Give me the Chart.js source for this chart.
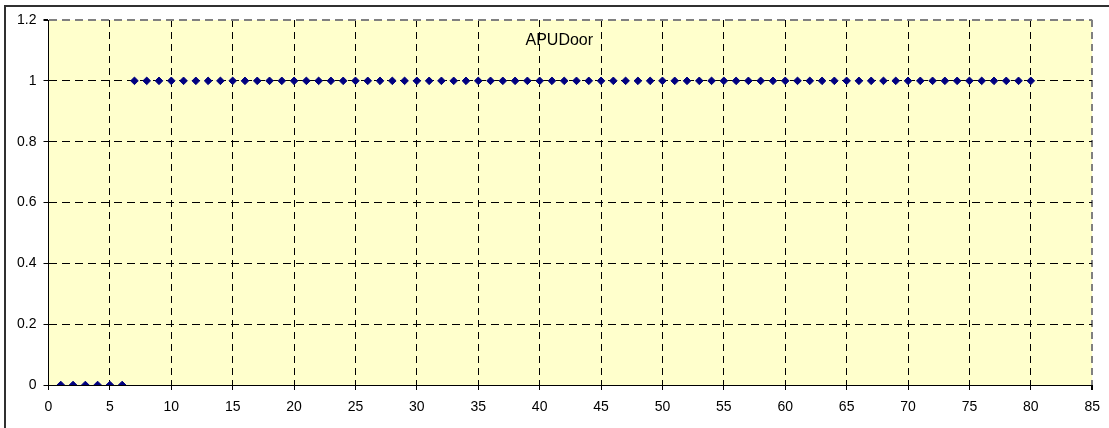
<!DOCTYPE html>
<html>
<head>
<meta charset="utf-8">
<script src="https://cdn.jsdelivr.net/npm/chart.js@4"></script>
<style>
html,body{margin:0;padding:0;background:#fff;}
#wrap{position:relative;width:1109px;height:428px;}
</style>
</head>
<body>
<div id="wrap"><canvas id="c" width="1109" height="428"></canvas></div>
<script>
const chartTitle = "APUDoor";
const xValues = [1,2,3,4,5,6,7,8,9,10,11,12,13,14,15,16,17,18,19,20,
  21,22,23,24,25,26,27,28,29,30,31,32,33,34,35,36,37,38,39,40,
  41,42,43,44,45,46,47,48,49,50,51,52,53,54,55,56,57,58,59,60,
  61,62,63,64,65,66,67,68,69,70,71,72,73,74,75,76,77,78,79,80];
const yValues = [0,0,0,0,0,0,1,1,1,1,1,1,1,1,1,1,1,1,1,1,
  1,1,1,1,1,1,1,1,1,1,1,1,1,1,1,1,1,1,1,1,
  1,1,1,1,1,1,1,1,1,1,1,1,1,1,1,1,1,1,1,1,
  1,1,1,1,1,1,1,1,1,1,1,1,1,1,1,1,1,1,1,1];
const xTicks = [0,5,10,15,20,25,30,35,40,45,50,55,60,65,70,75,80,85];
const yTicks = [0,0.2,0.4,0.6,0.8,1,1.2];

const points = xValues.map((x,i)=>({x:x,y:yValues[i]}));

const decor = {
  id:'decor',
  beforeDraw(chart){
    const {ctx, chartArea:a} = chart;
    ctx.save();
    ctx.fillStyle = '#FFFFCC';
    ctx.fillRect(a.left, a.top, a.right-a.left, a.bottom-a.top);
    ctx.restore();
  },
  afterDraw(chart){
    const {ctx} = chart;
    const xs = chart.scales.x, ys = chart.scales.y;
    ctx.save();
    ctx.strokeStyle = '#303030';
    ctx.lineWidth = 2;
    ctx.strokeRect(5, 6, 1300, 1300);
    ctx.fillStyle = '#000';
    ctx.font = '16px "Liberation Sans", Arial, sans-serif';
    ctx.textAlign = 'center';
    ctx.textBaseline = 'middle';
    ctx.fillText(chartTitle, xs.getPixelForValue(41.6), ys.getPixelForValue(1.131));
    ctx.restore();
  }
};

Chart.defaults.font.family = '"Liberation Sans", Arial, sans-serif';
Chart.defaults.font.size = 14;
Chart.defaults.color = '#000';

new Chart(document.getElementById('c'), {
  type:'scatter',
  data:{datasets:[{
    label:chartTitle,
    data:points,
    pointStyle:'rectRot',
    pointRadius:3.8,
    pointBackgroundColor:'#000080',
    pointBorderColor:'#000080',
    pointBorderWidth:1,
    showLine:false
  }]},
  options:{
    responsive:false,
    animation:false,
    devicePixelRatio:1,
    layout:{padding:{left:0,top:20,right:16,bottom:0}},
    plugins:{legend:{display:false},tooltip:{enabled:false},title:{display:false}},
    scales:{
      x:{
        type:'linear', min:0, max:85,
        afterBuildTicks(s){ s.ticks = xTicks.map(v=>({value:v})); },
        afterFit(s){ s.height = 43; },
        ticks:{padding:9, maxRotation:0, autoSkip:false, font:{size:14}},
        grid:{
          color:(c)=> c.tick && c.tick.value===85 ? '#808080' : '#000',
          lineWidth:(c)=> c.tick && c.tick.value===85 ? 2 : 1,
          tickLength:5,
          tickColor:'#000',
          tickBorderDash:[],
          drawOnChartArea:true
        },
        border:{display:true,color:'#000',width:1,dash:[7,5]}
      },
      y:{
        type:'linear', min:0, max:1.2,
        afterBuildTicks(s){ s.ticks = yTicks.map(v=>({value:v})); },
        afterFit(s){ s.width = 48.5; },
        ticks:{padding:7, font:{size:14}, callback:(v)=>String(Math.round(v*10)/10)},
        grid:{
          color:(c)=> c.tick && Math.abs(c.tick.value-1.2)<1e-9 ? '#808080' : '#000',
          lineWidth:(c)=> c.tick && Math.abs(c.tick.value-1.2)<1e-9 ? 2 : 1,
          tickLength:5,
          tickColor:'#000',
          tickBorderDash:[]
        },
        border:{display:true,color:'#000',width:1,dash:[8,5]}
      }
    }
  },
  plugins:[decor]
});
</script>
</body>
</html>
